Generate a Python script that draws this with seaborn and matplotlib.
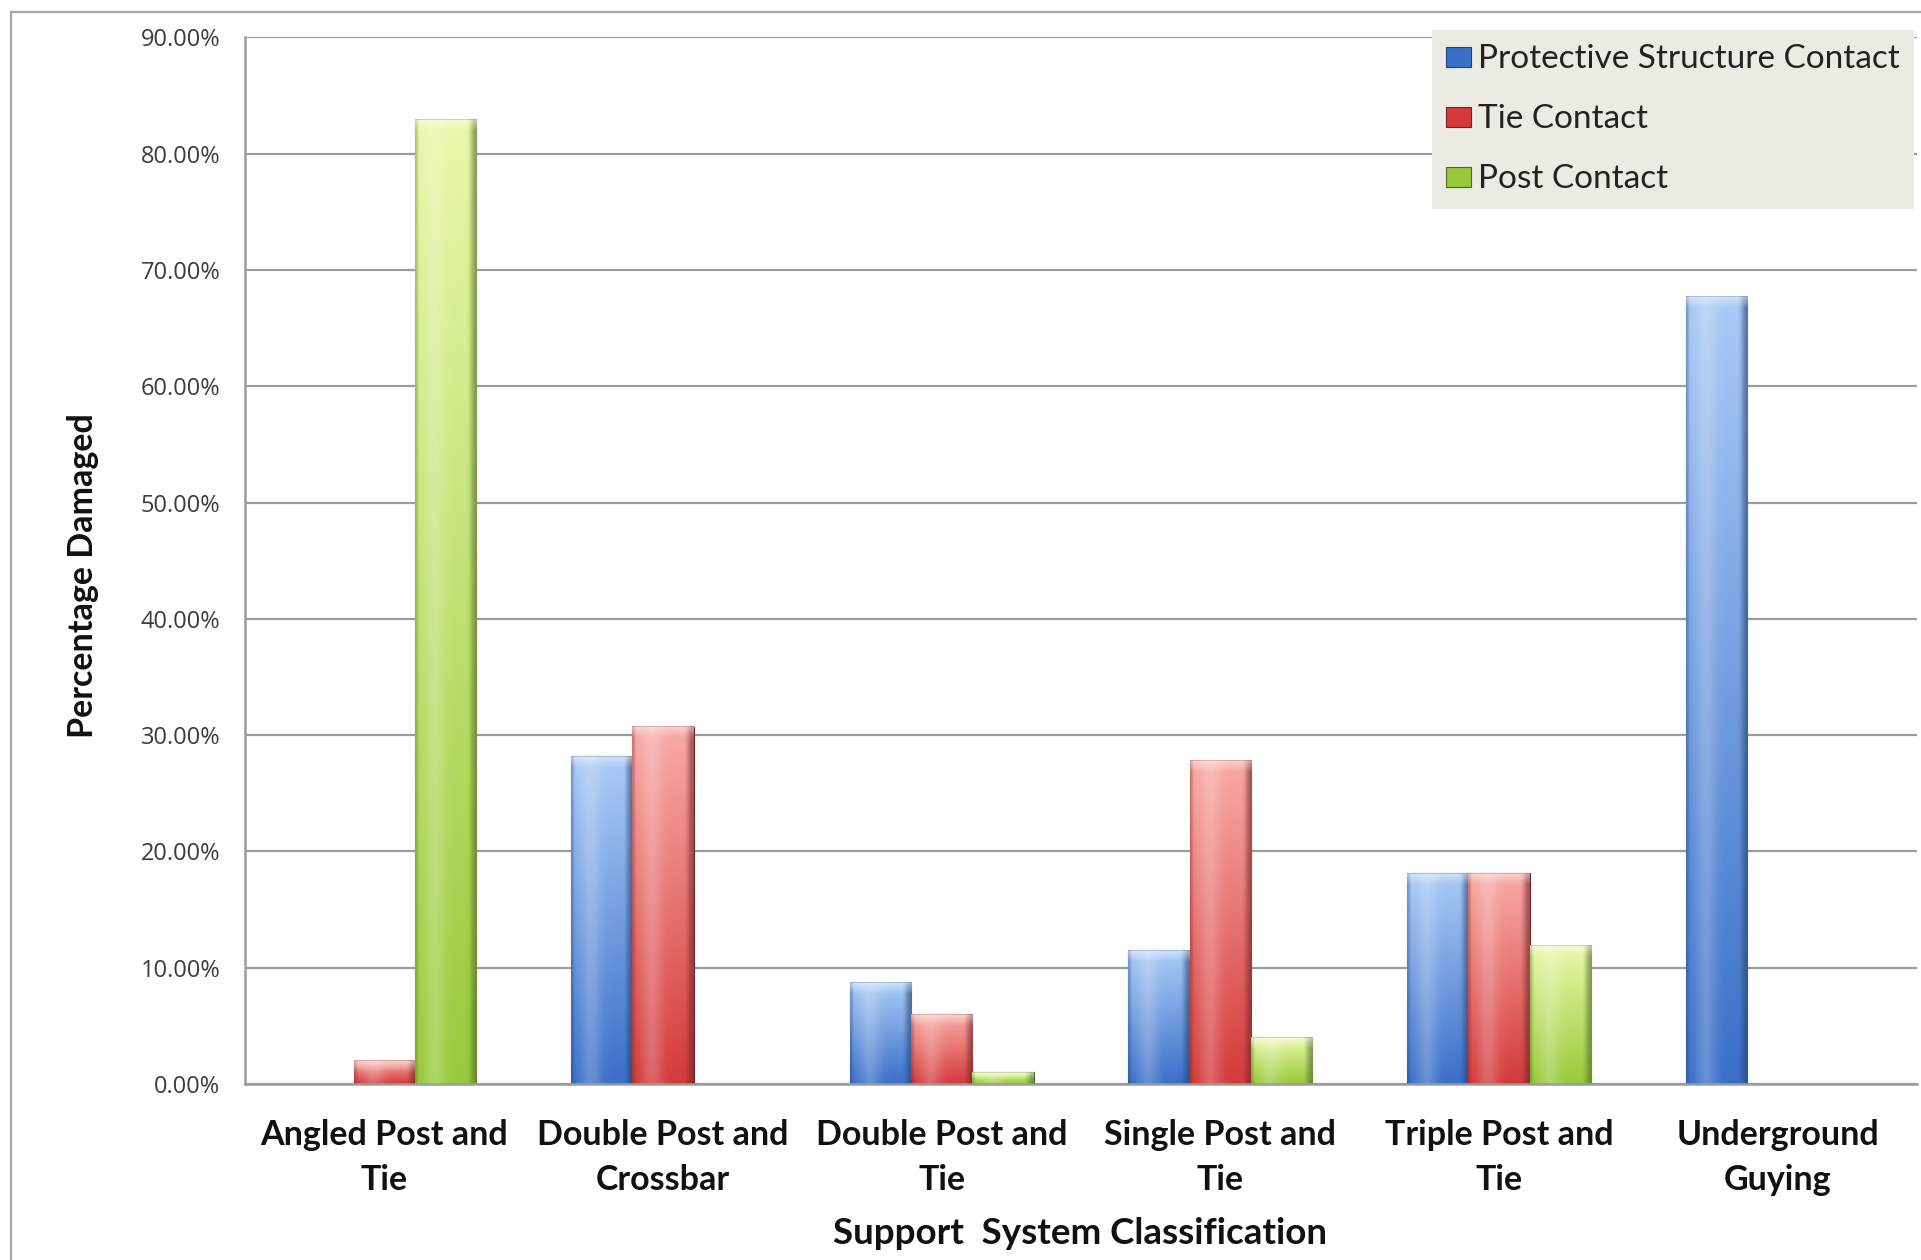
import numpy as np
import pandas as pd
import matplotlib
matplotlib.use("Agg")
import matplotlib.pyplot as plt
import seaborn as sns
from matplotlib.colors import to_rgb
from matplotlib.patches import Rectangle
from matplotlib.ticker import FixedLocator, FuncFormatter

# ---- data -------------------------------------------------------------
categories = [
    "Angled Post and\nTie",
    "Double Post and\nCrossbar",
    "Double Post and\nTie",
    "Single Post and\nTie",
    "Triple Post and\nTie",
    "Underground\nGuying",
]
series = ["Protective Structure Contact", "Tie Contact", "Post Contact"]
protective_contact = [0.0, 28.2, 8.7, 11.5, 18.1, 67.7]
tie_contact = [2.0, 30.7, 6.0, 27.8, 18.1, 0.0]
post_contact = [82.9, 0.0, 1.0, 4.0, 11.9, 0.0]
y_ticks = [0, 10, 20, 30, 40, 50, 60, 70, 80, 90]

df = pd.DataFrame({
    "category": categories * 3,
    "series": np.repeat(series, len(categories)),
    "value": protective_contact + tie_contact + post_contact,
})

# bar shading: (top colour, bottom colour, outline)
shades = {
    series[0]: ("#AACBF6", "#3A6FC8", "#24406E"),
    series[1]: ("#F8ABA7", "#D43A3A", "#6E2424"),
    series[2]: ("#E9F8AA", "#98C93A", "#4E6624"),
}
palette = {k: v[1] for k, v in shades.items()}

sns.set_theme(style="white")
plt.rcParams["font.family"] = ["Lato", "DejaVu Sans"]

W, H = 1921, 1260
fig = plt.figure(figsize=(W / 100, H / 100), dpi=100)
fig.patch.set_facecolor("white")

ax_left, ax_right, ax_top, ax_bottom = 245, 1917, 37.3, 1084
ax = fig.add_axes([ax_left / W, 1 - ax_bottom / H,
                   (ax_right - ax_left) / W, (ax_bottom - ax_top) / H])

sns.barplot(data=df, x="category", y="value", hue="series",
            order=categories, hue_order=series, palette=palette,
            width=0.66, ax=ax, errorbar=None, saturation=1,
            edgecolor="none", linewidth=0)

ax.set_xlim(-0.5, 5.5)
ax.set_ylim(0, 90)

# ---- cylinder-like gradient overlay on every bar ---------------------
def smooth(x):
    x = np.clip(x, 0, 1)
    return x * x * (3 - 2 * x)

for cont, name in zip(ax.containers, series):
    top_c, bot_c, edge_c = (np.array(to_rgb(c)) for c in shades[name])
    for bar in cont:
        h = bar.get_height()
        if not np.isfinite(h) or h <= 0:
            continue
        x0, w = bar.get_x(), bar.get_width()
        p0 = ax.transData.transform((x0, 0))
        p1 = ax.transData.transform((x0 + w, h))
        nw = max(int(round(p1[0] - p0[0])), 2)
        nh = max(int(round(p1[1] - p0[1])), 2)
        t = np.linspace(0, 1, nh)[:, None, None]          # 0 top -> 1 bottom
        u = np.linspace(0, 1, nw)[None, :, None]
        img = top_c * (1 - t) + bot_c * t
        img = np.broadcast_to(img, (nh, nw, 3)).copy()
        # soft highlight left of centre
        hl = 0.22 * np.exp(-((u - 0.32) / 0.17) ** 2)
        img = img * (1 - hl) + hl
        # darker rims
        dark = 0.6 * smooth((u - 0.84) / 0.16) + 0.35 * smooth(1 - u / 0.07)
        img = img * (1 - dark) + edge_c * dark
        # bevelled cap
        cap = min(11, nh // 2)
        if cap > 0:
            rows = np.arange(cap)
            capmix = (0.45 * (1 - rows / cap))[:, None, None]
            img[:cap] = img[:cap] * (1 - capmix) + capmix
            img[0] = img[0] * 0.75 + edge_c * 0.25
        ax.imshow(np.clip(img, 0, 1), extent=(x0, x0 + w, 0, h),
                  origin="upper", aspect="auto", interpolation="bilinear",
                  zorder=2.1, clip_path=bar, clip_on=True)
        bar.set_zorder(2)
        bar.set_edgecolor(edge_c)
        bar.set_linewidth(0.8)

ax.set_xlim(-0.5, 5.5)
ax.set_ylim(0, 90)

# ---- axes styling -----------------------------------------------------
grid_c = "#9C9C9C"
ax.set_axisbelow(True)
ax.yaxis.grid(True, color=grid_c, linewidth=1.6)
ax.xaxis.grid(False)
for side in ("top", "right"):
    ax.spines[side].set_visible(False)
for side in ("left", "bottom"):
    ax.spines[side].set_color(grid_c)
    ax.spines[side].set_linewidth(1.8)

ax.yaxis.set_major_locator(FixedLocator(y_ticks))
ax.yaxis.set_major_formatter(FuncFormatter(lambda v, p: f"{v:.2f}%"))
ax.tick_params(axis="y", direction="out", length=7.2, width=1.4,
               color=grid_c, pad=10.5, labelsize=17, labelcolor="#3C3C3C")
for lab in ax.get_yticklabels():
    lab.set_fontfamily(["Open Sans", "DejaVu Sans"])

ax.xaxis.set_minor_locator(FixedLocator(np.arange(-0.5, 6.0, 1.0)))
ax.tick_params(axis="x", which="major", length=0, pad=25, labelsize=24.5,
               labelcolor="#111111")
ax.tick_params(axis="x", which="minor", direction="out", length=8.6,
               width=1.4, color=grid_c)
for lab in ax.get_xticklabels():
    lab.set_fontweight("bold")
    lab.set_linespacing(1.52)

ax.set_xlabel("Support  System Classification", fontsize=26.5,
              fontweight="bold", color="#111111")
ax.xaxis.set_label_coords((1080 - ax_left) / (ax_right - ax_left),
                          (ax_bottom - 1233) / (ax_bottom - ax_top))
ax.xaxis.label.set_verticalalignment("center")

ax.set_ylabel("Percentage Damaged", fontsize=24.5, fontweight="bold",
              color="#111111")
ax.yaxis.set_label_coords((83 - ax_left) / (ax_right - ax_left),
                          (ax_bottom - 576) / (ax_bottom - ax_top))
ax.yaxis.label.set_verticalalignment("center")

# ---- legend -----------------------------------------------------------
handles, labels = ax.get_legend_handles_labels()
leg = ax.legend(handles, labels, loc="upper left",
                bbox_to_anchor=((1432 - ax_left) / (ax_right - ax_left),
                                (ax_bottom - 30) / (ax_bottom - ax_top)),
                borderaxespad=0, frameon=True, fancybox=False,
                fontsize=24, handlelength=0.75, handleheight=0.55,
                handletextpad=0.2, labelspacing=0.9, borderpad=0.43)
leg.get_frame().set_facecolor("#ECEBE3")
leg.get_frame().set_edgecolor("none")
leg.get_frame().set_alpha(1)
for txt in leg.get_texts():
    txt.set_color("#222222")
for hnd, name in zip(leg.legend_handles, series):
    hnd.set_edgecolor(shades[name][2])
    hnd.set_linewidth(0.8)

# thin outer frame of the chart area
fig.patches.append(Rectangle((11 / W, -0.05), 1.2, 1 - 12 / H + 0.05,
                             transform=fig.transFigure, fill=False,
                             edgecolor="#A6A6A6", linewidth=1.6))

fig.savefig("out.png", dpi=100, facecolor="white")
